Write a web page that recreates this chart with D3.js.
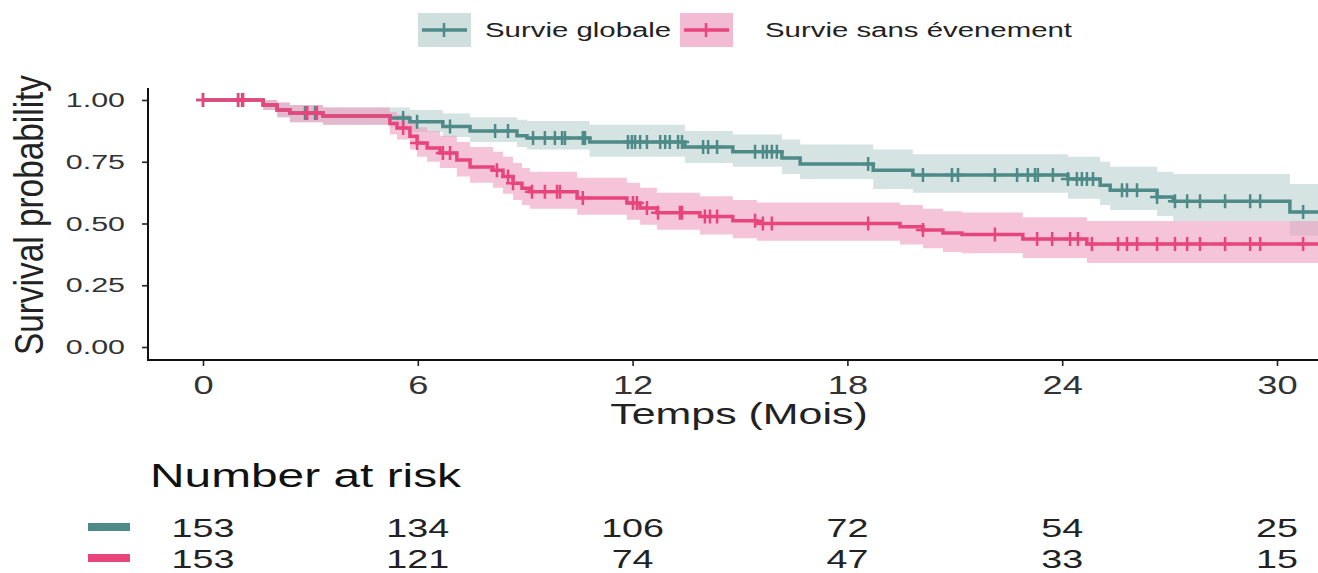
<!DOCTYPE html>
<html>
<head>
<meta charset="utf-8">
<script src="https://cdn.jsdelivr.net/npm/d3@7"></script>
<style>
  body { margin: 0; background: #fff; }
  text { font-family: "Liberation Sans", Arial, sans-serif; }
</style>
</head>
<body>
<script>
// survie globale (steps)
var osTime  = [0, 1.68, 2.07, 2.43, 3.35, 5.22, 5.78, 6.70, 7.46, 8.77, 9.05, 10.8, 13.46, 14.8, 16.17, 16.68, 18.72, 19.83, 24.16, 25.06, 25.34, 26.65, 27.1, 30.36];
var osSurv  = [1.0, 0.98, 0.96, 0.947, 0.935, 0.927, 0.912, 0.893, 0.874, 0.855, 0.846, 0.83, 0.81, 0.79, 0.765, 0.741, 0.716, 0.696, 0.68, 0.655, 0.635, 0.607, 0.59, 0.547];
var osUpper = [1.0, 1.0, 0.99, 0.98, 0.97, 0.97, 0.96, 0.945, 0.93, 0.92, 0.915, 0.90, 0.875, 0.86, 0.84, 0.82, 0.80, 0.78, 0.77, 0.75, 0.73, 0.71, 0.70, 0.66];
var osLower = [1.0, 0.96, 0.93, 0.91, 0.90, 0.89, 0.87, 0.85, 0.83, 0.81, 0.80, 0.77, 0.745, 0.73, 0.70, 0.68, 0.64, 0.625, 0.60, 0.575, 0.555, 0.53, 0.51, 0.45];
var osCens  = [0, 0.98, 1.09, 2.85, 3.13, 5.59, 5.98, 6.90, 8.16, 8.52, 9.22, 9.55, 9.83, 10.03, 10.11, 10.61, 10.67, 11.87, 11.98, 12.07, 12.21, 12.40, 12.77, 12.91, 13.04, 13.27, 13.38, 13.97, 14.11, 14.36, 15.42, 15.64, 15.75, 15.89, 16.03, 18.58, 20.11, 20.92, 21.09, 22.12, 22.74, 23.04, 23.24, 23.32, 23.74, 24.16, 24.41, 24.55, 24.69, 24.86, 25.67, 25.81, 26.09, 26.65, 27.15, 27.49, 27.85, 28.55, 29.25, 29.53, 30.73];

// survie sans evenement (steps)
var efsTime  = [0, 1.68, 2.07, 2.43, 3.35, 5.22, 5.42, 5.78, 5.98, 6.26, 6.62, 7.09, 7.46, 8.1, 8.38, 8.66, 8.91, 9.13, 10.45, 11.84, 12.21, 12.68, 13.88, 14.8, 15.47, 19.47, 20.11, 20.67, 21.2, 22.9, 24.69];
var efsSurv  = [1.0, 0.98, 0.96, 0.947, 0.935, 0.905, 0.887, 0.853, 0.826, 0.806, 0.785, 0.757, 0.729, 0.716, 0.69, 0.663, 0.643, 0.629, 0.603, 0.583, 0.563, 0.544, 0.528, 0.511, 0.5, 0.487, 0.474, 0.462, 0.455, 0.437, 0.417];
var efsUpper = [1.0, 1.0, 0.99, 0.98, 0.97, 0.95, 0.94, 0.91, 0.89, 0.875, 0.855, 0.83, 0.81, 0.79, 0.77, 0.745, 0.725, 0.71, 0.685, 0.665, 0.645, 0.625, 0.61, 0.595, 0.585, 0.575, 0.56, 0.55, 0.545, 0.525, 0.51];
var efsLower = [1.0, 0.96, 0.93, 0.91, 0.90, 0.86, 0.84, 0.80, 0.77, 0.75, 0.725, 0.69, 0.665, 0.645, 0.62, 0.595, 0.575, 0.56, 0.535, 0.515, 0.495, 0.475, 0.455, 0.44, 0.43, 0.415, 0.40, 0.385, 0.38, 0.36, 0.34];
var efsCens  = [0, 0.98, 1.12, 2.91, 3.18, 5.59, 5.98, 6.70, 6.90, 8.21, 8.52, 8.66, 9.19, 9.55, 9.89, 9.97, 10.61, 12.01, 12.12, 12.40, 12.71, 13.32, 13.38, 14.02, 14.16, 14.36, 15.42, 15.64, 15.89, 18.58, 20.11, 22.12, 23.30, 23.72, 24.22, 24.44, 24.83, 25.56, 25.81, 26.09, 26.65, 27.15, 27.49, 27.85, 28.55, 29.25, 29.53, 30.73];

var seriesNames = ["Survie globale", "Survie sans évenement"];
var lineColors = ["#4e8b88", "#e8457c"];
var fillColors = ["#b9d1cf", "#ee9cc0"];

var xTicks = [0, 6, 12, 18, 24, 30];
var yTicks = [0, 0.25, 0.5, 0.75, 1.0];
var riskOS  = [153, 134, 106, 72, 54, 25];
var riskEFS = [153, 121, 74, 47, 33, 15];

var W = 1318, H = 573;
var tMax = 31.2;
var SX = 1.45; // the picture is stretched sideways

var svg = d3.select("body").append("svg")
  .attr("width", W).attr("height", H);

var x = d3.scaleLinear().domain([0, 30]).range([203, 1277]);
var y = d3.scaleLinear().domain([0, 1]).range([347, 100]);

function steps(time, vals) {
  var pts = time.map(function (t, i) { return [t, vals[i]]; });
  pts.push([tMax, vals[vals.length - 1]]);
  return pts;
}
function survAt(time, surv, t) {
  var v = surv[0];
  for (var i = 0; i < time.length; i++) { if (time[i] <= t) v = surv[i]; }
  return v;
}
function wideText(px, py, size, str, anchor, sx) {
  return svg.append("text")
    .attr("transform", "translate(" + px + "," + py + ") scale(" + (sx || SX) + ",1)")
    .attr("text-anchor", anchor || "start")
    .style("font-size", size + "px").attr("fill", "#222").text(str);
}

var series = [
  { time: osTime, surv: osSurv, lo: osLower, hi: osUpper, cens: osCens },
  { time: efsTime, surv: efsSurv, lo: efsLower, hi: efsUpper, cens: efsCens }
];

var line = d3.line().x(function (d) { return x(d[0]); }).y(function (d) { return y(d[1]); })
  .curve(d3.curveStepAfter);
var area = d3.area().x(function (d) { return x(d[0]); })
  .y0(function (d) { return y(d[1]); }).y1(function (d) { return y(d[2]); })
  .curve(d3.curveStepAfter);

// bands
series.forEach(function (s, k) {
  var pts = s.time.map(function (t, i) { return [t, s.lo[i], s.hi[i]]; });
  pts.push([tMax, s.lo[s.lo.length - 1], s.hi[s.hi.length - 1]]);
  svg.append("path").attr("d", area(pts))
    .attr("fill", fillColors[k]).attr("fill-opacity", 0.6);
});

// lines + censor marks
series.forEach(function (s, k) {
  svg.append("path").attr("d", line(steps(s.time, s.surv)))
    .attr("fill", "none").attr("stroke", lineColors[k]).attr("stroke-width", 3.5);
  svg.append("g").selectAll("path").data(s.cens).enter().append("path")
    .attr("d", function (t) {
      var cx = x(t), cy = y(survAt(s.time, s.surv, t));
      return "M" + (cx - 7) + "," + cy + "H" + (cx + 7) + "M" + cx + "," + (cy - 7) + "V" + (cy + 7);
    })
    .attr("stroke", lineColors[k]).attr("stroke-width", 2.5);
});

// axes
var yAxis = d3.axisLeft(y).tickValues(yTicks).tickFormat(d3.format(".2f")).tickSize(6).tickPadding(0);
var gy = svg.append("g").attr("transform", "translate(148,0)").call(yAxis);
gy.select(".domain").remove();
gy.append("line").attr("x1", 0).attr("x2", 0).attr("y1", 88).attr("y2", 361)
  .attr("stroke", "#111").attr("stroke-width", 2);
gy.selectAll(".tick line").attr("stroke", "#222").attr("stroke-width", 1.6);
gy.selectAll(".tick text").attr("x", 0).attr("fill", "#333").style("font-size", "21px")
  .style("font-family", "Liberation Sans, Arial, sans-serif")
  .attr("transform", "translate(-23,0) scale(" + SX + ",1)");

var xAxis = d3.axisBottom(x).tickValues(xTicks).tickSize(6).tickPadding(0);
var gx = svg.append("g").attr("transform", "translate(0,360)").call(xAxis);
gx.select(".domain").remove();
gx.append("line").attr("x1", 148).attr("x2", W).attr("y1", 0).attr("y2", 0)
  .attr("stroke", "#111").attr("stroke-width", 2);
gx.selectAll(".tick line").attr("stroke", "#222").attr("stroke-width", 1.6);
gx.selectAll(".tick text").attr("y", 0).attr("dy", null).attr("fill", "#333").style("font-size", "25px")
  .style("font-family", "Liberation Sans, Arial, sans-serif")
  .attr("transform", "translate(0,34) scale(" + SX + ",1)");

wideText(739, 424, 29, "Temps (Mois)", "middle", 1.48);
svg.append("text").attr("transform", "translate(43,215) scale(" + SX + ",1) rotate(-90)")
  .attr("text-anchor", "middle").style("font-size", "28px").attr("fill", "#222")
  .attr("textLength", 280).attr("lengthAdjust", "spacingAndGlyphs")
  .text("Survival probability");

// legend
var legX = [418, 680], legTextX = [485, 765];
seriesNames.forEach(function (name, k) {
  var g = svg.append("g");
  g.append("rect").attr("x", legX[k]).attr("y", 13).attr("width", 53).attr("height", 34)
    .attr("fill", fillColors[k]).attr("fill-opacity", 0.7);
  g.append("line").attr("x1", legX[k] + 4).attr("x2", legX[k] + 49).attr("y1", 30).attr("y2", 30)
    .attr("stroke", lineColors[k]).attr("stroke-width", 3.5);
  g.append("line").attr("x1", legX[k] + 26).attr("x2", legX[k] + 26).attr("y1", 23).attr("y2", 37)
    .attr("stroke", lineColors[k]).attr("stroke-width", 2.5);
  wideText(legTextX[k], 37, 20, name, "start", 1.47);
});

// risk table
wideText(150, 487, 33, "Number at risk").attr("fill", "#111");
var riskRows = [riskOS, riskEFS], rowY = [527, 558];
riskRows.forEach(function (row, k) {
  svg.append("rect").attr("x", 88).attr("y", rowY[k] - 4).attr("width", 42).attr("height", 8)
    .attr("fill", lineColors[k]);
  row.forEach(function (d, i) {
    wideText(x(xTicks[i]), rowY[k] + 10, 26, d, "middle");
  });
});
</script>
</body>
</html>
